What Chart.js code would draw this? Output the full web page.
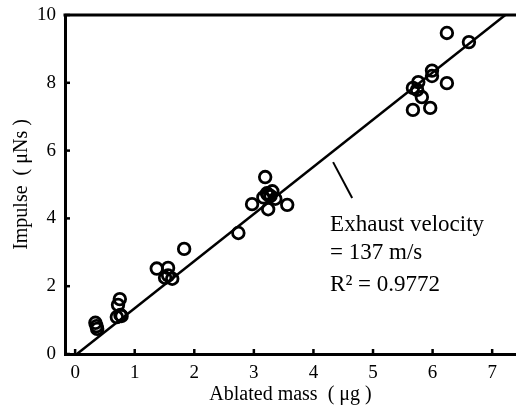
<!DOCTYPE html>
<html>
<head>
<meta charset="utf-8">
<script src="https://cdn.jsdelivr.net/npm/chart.js@4.4.1/dist/chart.umd.min.js"></script>
<style>
  html, body { margin: 0; padding: 0; background: #fff; }
  #wrap { width: 516px; height: 413px; position: relative; }
</style>
</head>
<body>
<div id="wrap"><canvas id="impulseChart"></canvas></div>
<script>
// measured points (ablated mass in ug, impulse in uNs)
const massValues = [
  0.34, 0.37, 0.36, 0.75, 0.72, 0.76, 0.70, 0.78,
  1.37, 1.56, 1.56, 1.51, 1.63, 1.83,
  2.74, 2.97, 3.19, 3.24, 3.24, 3.56, 3.31, 3.16, 3.36, 3.28, 3.22,
  5.67, 5.74, 5.76, 5.82, 5.67, 5.96, 5.99, 5.99, 6.24, 6.24, 6.61
];
const impulseValues = [
  0.92, 0.74, 0.82, 1.62, 1.45, 1.15, 1.09, 1.12,
  2.52, 2.54, 2.32, 2.25, 2.22, 3.10,
  3.57, 4.42, 5.22, 4.69, 4.27, 4.40, 4.80, 4.62, 4.58, 4.66, 4.74,
  7.85, 7.79, 8.02, 7.58, 7.20, 7.26, 8.36, 8.20, 7.99, 9.47, 9.20
];

// fitted line
const fitMass = [0.03, 7.22];
const fitImpulse = [0, 10];

const xTicks = [0, 1, 2, 3, 4, 5, 6, 7];
const yTicks = [0, 2, 4, 6, 8, 10];

const noteLines = ["Exhaust velocity", "= 137 m/s", "R\u00B2 = 0.9772"];

const serif = "'Liberation Serif', 'Times New Roman', serif";

const points = massValues.map((m, i) => ({ x: m, y: impulseValues[i] }));
const fitPoints = fitMass.map((m, i) => ({ x: m, y: fitImpulse[i] }));

// top frame line, inward ticks, annotation text
const decorPlugin = {
  id: 'decor',
  afterDatasetsDraw(chart) {
    const c = chart.ctx;
    const area = chart.chartArea;
    const xs = chart.scales.x;
    const ys = chart.scales.y;
    c.save();
    c.strokeStyle = '#000';
    c.lineWidth = 3;
    c.beginPath();
    c.moveTo(area.left - 1.5, area.top);
    c.lineTo(area.right, area.top);
    c.stroke();

    c.lineWidth = 2.5;
    xTicks.forEach(v => {
      const px = xs.getPixelForValue(v);
      c.beginPath();
      c.moveTo(px, area.bottom);
      c.lineTo(px, area.bottom - 5);
      c.stroke();
    });
    yTicks.forEach(v => {
      const py = ys.getPixelForValue(v);
      c.beginPath();
      c.moveTo(area.left, py);
      c.lineTo(area.left + 5, py);
      c.stroke();
    });

    // leader line
    c.lineWidth = 2;
    c.beginPath();
    c.moveTo(xs.getPixelForValue(4.33), ys.getPixelForValue(5.66));
    c.lineTo(xs.getPixelForValue(4.65), ys.getPixelForValue(4.6));
    c.stroke();

    c.fillStyle = '#000';
    c.font = "23px " + serif;
    c.textAlign = 'left';
    c.textBaseline = 'middle';
    const noteY = [3.8, 2.98, 2.03];
    noteLines.forEach((t, i) => {
      c.fillText(t, xs.getPixelForValue(4.28), ys.getPixelForValue(noteY[i]));
    });
    c.restore();
  }
};

const ctx = document.getElementById('impulseChart').getContext('2d');
new Chart(ctx, {
  type: 'scatter',
  data: {
    datasets: [{
      label: 'data',
      data: points,
      pointStyle: 'circle',
      pointRadius: 5.8,
      pointBorderWidth: 2.8,
      pointBorderColor: '#000',
      pointBackgroundColor: 'rgba(0,0,0,0)'
    }, {
      type: 'line',
      label: 'fit',
      data: fitPoints,
      borderColor: '#000',
      borderWidth: 2.5,
      pointRadius: 0,
      fill: false
    }]
  },
  options: {
    responsive: true,
    maintainAspectRatio: false,
    animation: false,
    layout: { autoPadding: false, padding: { top: 15, right: 0, left: 0, bottom: 0 } },
    plugins: {
      legend: { display: false },
      tooltip: { enabled: false }
    },
    scales: {
      x: {
        type: 'linear',
        min: -0.17,
        max: 7.4,
        afterBuildTicks: s => { s.ticks = xTicks.map(v => ({ value: v })); },
        afterFit: s => { s.height = 59; s.paddingLeft = 0; s.paddingRight = 0; },
        grid: { drawOnChartArea: false, drawTicks: false },
        border: { color: '#000', width: 3 },
        ticks: {
          color: '#000',
          padding: 8,
          font: { family: serif, size: 19 }
        },
        title: {
          display: true,
          text: 'Ablated mass  ( \u03BCg )',
          color: '#000',
          padding: { top: 0, bottom: 6 },
          font: { family: serif, size: 20 }
        }
      },
      y: {
        type: 'linear',
        min: 0,
        max: 10,
        afterBuildTicks: s => { s.ticks = yTicks.map(v => ({ value: v })); },
        afterFit: s => { s.width = 65; s.paddingTop = 0; s.paddingBottom = 0; },
        grid: { drawOnChartArea: false, drawTicks: false },
        border: { color: '#000', width: 3 },
        ticks: {
          color: '#000',
          padding: 9,
          font: { family: serif, size: 19 }
        },
        title: {
          display: true,
          text: 'Impulse  ( \u03BCNs )',
          color: '#000',
          padding: { top: 10, bottom: 0 },
          font: { family: serif, size: 20 }
        }
      }
    }
  },
  plugins: [decorPlugin]
});
</script>
</body>
</html>
